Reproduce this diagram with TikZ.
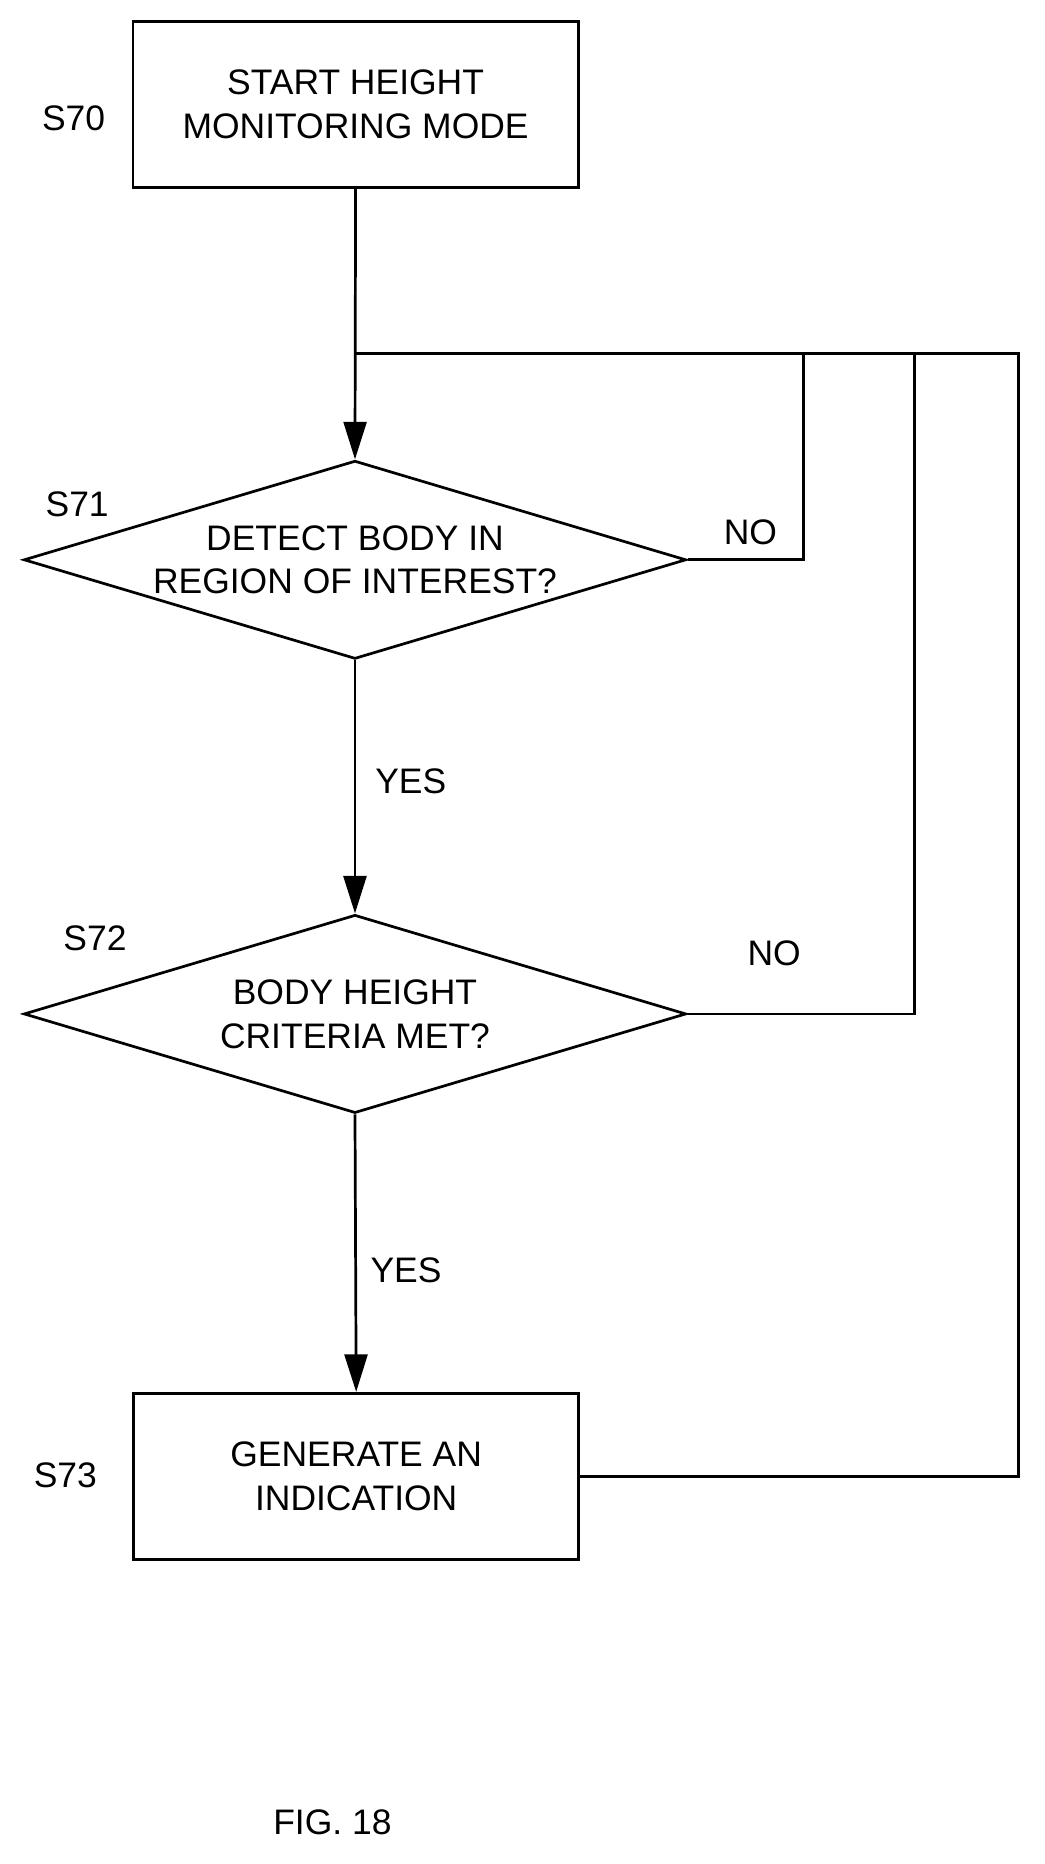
\documentclass[tikz,border=0pt]{standalone}
\usepackage{fontspec}
\setmainfont{Liberation Sans}
\usetikzlibrary{arrows.meta,shapes.geometric}
\begin{document}
\begin{tikzpicture}[x=0.02cm,y=-0.02cm,
  line width=1.3pt,
  txt/.style={font=\fontsize{17}{21}\selectfont,align=center},
  box/.style={draw,minimum width=7.5cm,minimum height=2.8cm,txt},
  dia/.style={draw,diamond,aspect=3.34,minimum width=11.16cm,minimum height=3.34cm,inner sep=0pt,txt},
  arr/.style={-{Triangle[length=18pt,width=11pt]}}]
\useasboundingbox (0,0) rectangle (880,1570);
\node[box] (s70) at (299.5,88) {START HEIGHT\\MONITORING MODE};
\node[dia] (s71) at (299,471.5) {DETECT BODY IN\\REGION OF INTEREST?};
\node[dia] (s72) at (299,854) {BODY HEIGHT\\CRITERIA MET?};
\node[box] (s73) at (300,1243.5) {GENERATE AN\\INDICATION};
\node[txt] (l70) at (62,100) {S70};
\node[txt] (l71) at (65,425) {S71};
\node[txt] (l72) at (80,790) {S72};
\node[txt] (l73) at (55,1243) {S73};
\node[txt] (n1) at (632,448) {NO};
\node[txt] (n2) at (652,803) {NO};
\node[txt] (y1) at (346,658) {YES};
\node[txt] (y2) at (342,1070) {YES};
\node[txt] (fig) at (280,1535) {FIG. 18};
\coordinate (j) at (300,298);
\draw[arr] (s70.south) -- (s71.north);
\draw[arr] (s71.south) -- (s72.north);
\draw[arr] (s72.south) -- (s73.north);
\draw (s71.east) -- (677,471.5) -- (677,298);
\draw (s72.east) -- (770,854) -- (770,298);
\draw (s73.east) -- (858,1243.5) -- (858,298) -- (j);
\end{tikzpicture}
\end{document}
